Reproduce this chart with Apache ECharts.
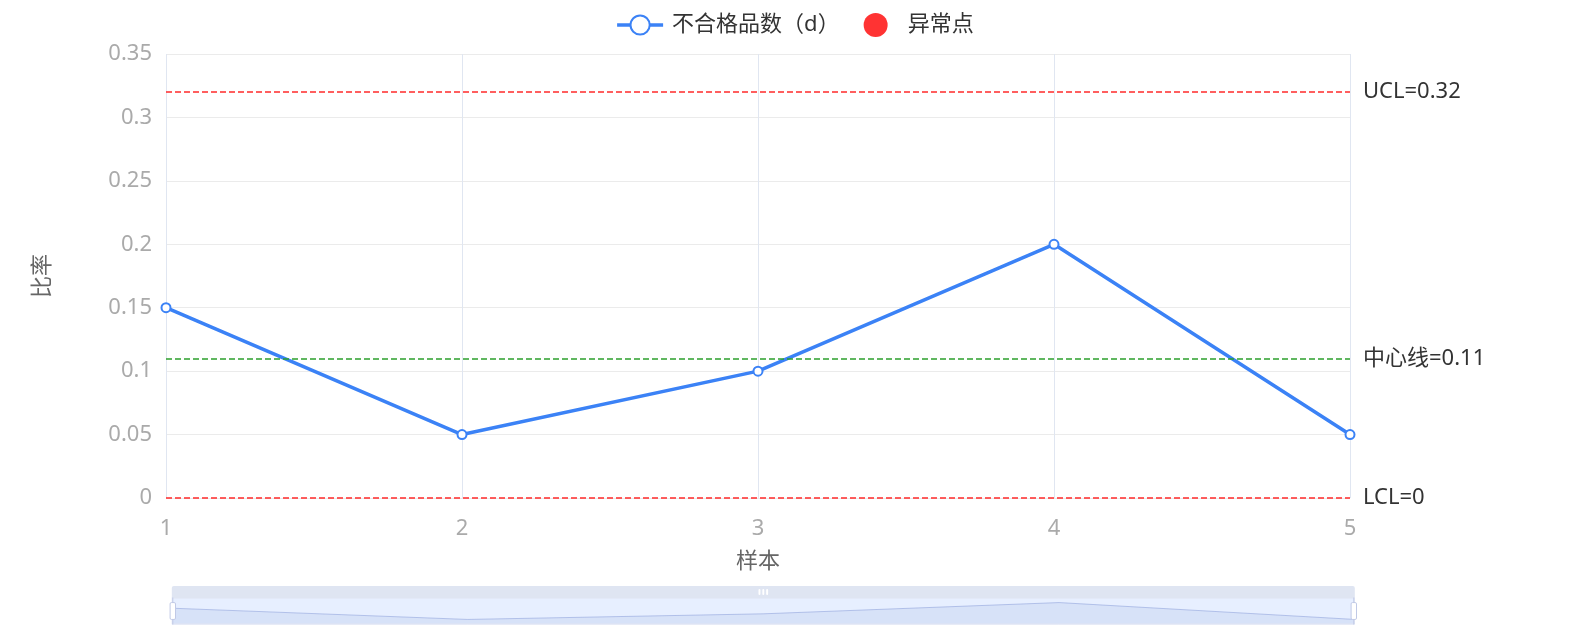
<!DOCTYPE html>
<html>
<head>
<meta charset="utf-8">
<script src="https://cdn.jsdelivr.net/npm/echarts@6/dist/echarts.min.js"></script>
<style>
html, body { margin: 0; padding: 0; background: #fff; }
#main { width: 1589px; height: 631px; }
</style>
</head>
<body>
<div id="main"></div>
<script>
var samples = ['1', '2', '3', '4', '5'];
var defectRate = [0.15, 0.05, 0.1, 0.2, 0.05];
var outliers = [];
var UCL = 0.32;
var CL = 0.11;
var LCL = 0;

var lineColor = '#3b82f6';
var ctrlColor = '#ff2a2a';
var centerColor = '#2ca02c';
var font = '"Noto Sans", "Noto Sans CJK SC", sans-serif';

var chart = echarts.init(document.getElementById('main'));
chart.setOption({
    backgroundColor: '#fff',
    animation: false,
    textStyle: { fontFamily: font },
    legend: {
        top: 8,
        left: 'center',
        itemWidth: 46,
        itemHeight: 24,
        itemGap: 24,
        lineStyle: { width: 3.5 },
        textStyle: { fontSize: 22, color: '#333', fontFamily: font, padding: [0, 0, 0, 4] },
        data: ['不合格品数（d）', '异常点']
    },
    grid: {
        left: 166,
        right: 239,
        top: 54,
        bottom: 133,
        outerBoundsMode: 'none'
    },
    xAxis: {
        type: 'category',
        data: samples,
        boundaryGap: false,
        name: '样本',
        nameLocation: 'middle',
        nameGap: 53,
        nameTextStyle: { fontSize: 22, color: '#666' },
        axisLine: { show: false },
        axisTick: { show: false },
        axisLabel: { fontSize: 22, color: '#aaa', margin: 20 },
        splitLine: { show: true, lineStyle: { color: '#e0e6f1' } }
    },
    yAxis: {
        type: 'value',
        min: 0,
        max: 0.35,
        interval: 0.05,
        name: '比率',
        nameLocation: 'middle',
        nameGap: 112,
        nameTextStyle: { fontSize: 22, color: '#666' },
        axisLine: { show: false },
        axisTick: { show: false },
        axisLabel: { fontSize: 22, color: '#aaa', margin: 14 },
        splitLine: { lineStyle: { color: '#ebebeb' } }
    },
    dataZoom: [{
        type: 'slider',
        xAxisIndex: 0,
        left: 167,
        right: 239,
        top: 586,
        height: 27,
        moveHandleSize: 12,
        moveHandleStyle: { color: '#dfe5f2', opacity: 1 },
        dataBackground: {
            lineStyle: { color: '#8fb0f7', width: 1 },
            areaStyle: { color: '#d3e0fa', opacity: 1 }
        },
        start: 0,
        end: 100,
        labelFormatter: ''
    }],
    series: [{
        name: '不合格品数（d）',
        type: 'line',
        data: defectRate,
        symbol: 'emptyCircle',
        symbolSize: 9,
        lineStyle: { color: lineColor, width: 3.5 },
        itemStyle: { color: lineColor, borderWidth: 2.5 },
        markLine: {
            silent: true,
            symbol: 'none',
            label: { position: 'end', fontSize: 22, color: '#333', distance: 13 },
            data: [
                { yAxis: UCL, name: 'UCL', label: { formatter: 'UCL=' + UCL }, lineStyle: { color: ctrlColor, type: 'dashed', width: 1.5 } },
                { yAxis: CL, name: '中心线', label: { formatter: '中心线=' + CL }, lineStyle: { color: centerColor, type: 'dashed', width: 1.5 } },
                { yAxis: LCL, name: 'LCL', label: { formatter: 'LCL=' + LCL }, lineStyle: { color: ctrlColor, type: 'dashed', width: 1.5 } }
            ]
        }
    }, {
        name: '异常点',
        type: 'scatter',
        data: outliers,
        symbolSize: 12,
        itemStyle: { color: '#ff3333', opacity: 1 }
    }]
});
</script>
</body>
</html>
